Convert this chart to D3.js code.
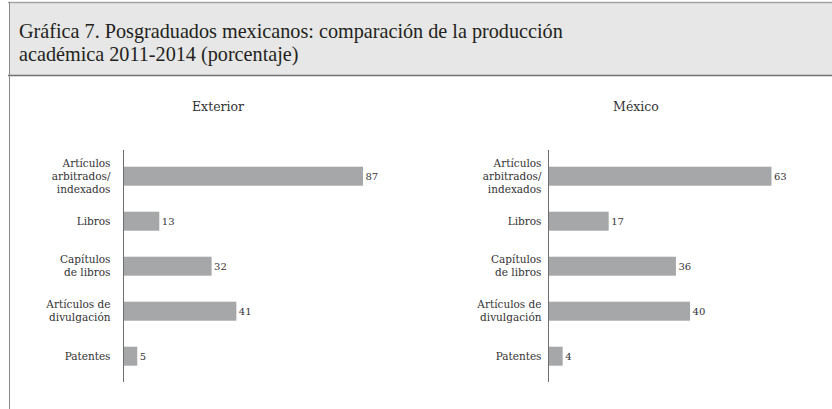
<!DOCTYPE html>
<html>
<head>
<meta charset="utf-8">
<script src="https://cdn.jsdelivr.net/npm/d3@7"></script>
<style>
  body { margin: 0; background: #fff; }
  svg { display: block; }
  text { font-family: "Liberation Serif", "Times New Roman", serif; fill: #231f20; }
  .cat, .val, .ptitle { font-family: "DejaVu Serif", serif; fill: #333; }
</style>
</head>
<body>
<svg width="832" height="409"></svg>
<script>
// datos
var titleLines = ["Gráfica 7. Posgraduados mexicanos: comparación de la producción",
                  "académica 2011-2014 (porcentaje)"];
var categories = [["Artículos", "arbitrados/", "indexados"],
                  ["Libros"],
                  ["Capítulos", "de libros"],
                  ["Artículos de", "divulgación"],
                  ["Patentes"]];
var panelTitles = ["Exterior", "México"];
var exterior = [87, 13, 32, 41, 5];
var mexico = [63, 17, 36, 40, 4];

var svg = d3.select("svg");

// encabezado gris
svg.append("rect").attr("x", 9).attr("y", 2.5).attr("width", 830).attr("height", 73)
    .attr("fill", "#e6e7e6");
svg.append("line").attr("x1", 8).attr("x2", 832).attr("y1", 2.5).attr("y2", 2.5)
    .attr("stroke", "#a3a3a3").attr("stroke-width", 1.5);
svg.append("line").attr("x1", 8).attr("x2", 832).attr("y1", 75.5).attr("y2", 75.5)
    .attr("stroke", "#707070").attr("stroke-width", 1.5);
svg.append("line").attr("x1", 9.5).attr("x2", 9.5).attr("y1", 2).attr("y2", 409)
    .attr("stroke", "#8a8a8a").attr("stroke-width", 1);

svg.append("g").selectAll("text")
    .data(titleLines)
    .enter().append("text")
    .attr("x", 19)
    .attr("y", function(d, i) { return 38 + i * 23; })
    .style("font-size", "20.2px")
    .text(function(d) { return d; });

// un panel por serie
var panels = [
  {title: panelTitles[0], values: exterior, axisX: 123.5, endX: 363, labelGap: 13, titleX: 218},
  {title: panelTitles[1], values: mexico, axisX: 548.5, endX: 771.5, labelGap: 7, titleX: 636}
];

var y = d3.scaleBand()
    .domain(d3.range(categories.length))
    .range([153.7, 378.7])
    .paddingInner(0.578)
    .paddingOuter(0.289);

panels.forEach(function(p) {
  var x = d3.scaleLinear()
      .domain([0, d3.max(p.values)])
      .range([p.axisX, p.endX]);

  var g = svg.append("g");

  g.append("text")
      .attr("class", "ptitle")
      .attr("x", p.titleX)
      .attr("y", 111)
      .attr("text-anchor", "middle")
      .style("font-size", "12.5px")
      .text(p.title);

  g.selectAll(".bar")
      .data(p.values)
      .enter().append("rect")
      .attr("class", "bar")
      .attr("x", x(0))
      .attr("y", function(d, i) { return y(i); })
      .attr("width", function(d) { return x(d) - x(0); })
      .attr("height", y.bandwidth())
      .attr("fill", "#a6a7a9");

  g.selectAll(".val")
      .data(p.values)
      .enter().append("text")
      .attr("class", "val")
      .attr("x", function(d) { return x(d) + 2.5; })
      .attr("y", function(d, i) { return y(i) + y.bandwidth() / 2; })
      .attr("dy", "0.35em")
      .style("font-size", "10px")
      .text(function(d) { return d; });

  // etiquetas de categorias, varias lineas centradas en la barra
  var lab = g.selectAll(".cat")
      .data(categories)
      .enter().append("text")
      .attr("class", "cat")
      .attr("text-anchor", "end")
      .style("font-size", "10.5px");
  lab.each(function(lines, i) {
    var cy = y(i) + y.bandwidth() / 2;
    var t = d3.select(this);
    lines.forEach(function(l, j) {
      t.append("tspan")
          .attr("x", p.axisX - p.labelGap)
          .attr("y", cy + (j - (lines.length - 1) / 2) * 13)
          .attr("dy", "0.35em")
          .text(l);
    });
  });

  // eje vertical
  g.append("line")
      .attr("x1", x(0)).attr("x2", x(0))
      .attr("y1", 150).attr("y2", 382)
      .attr("stroke", "#6d6e70").attr("stroke-width", 1);
});
</script>
</body>
</html>
